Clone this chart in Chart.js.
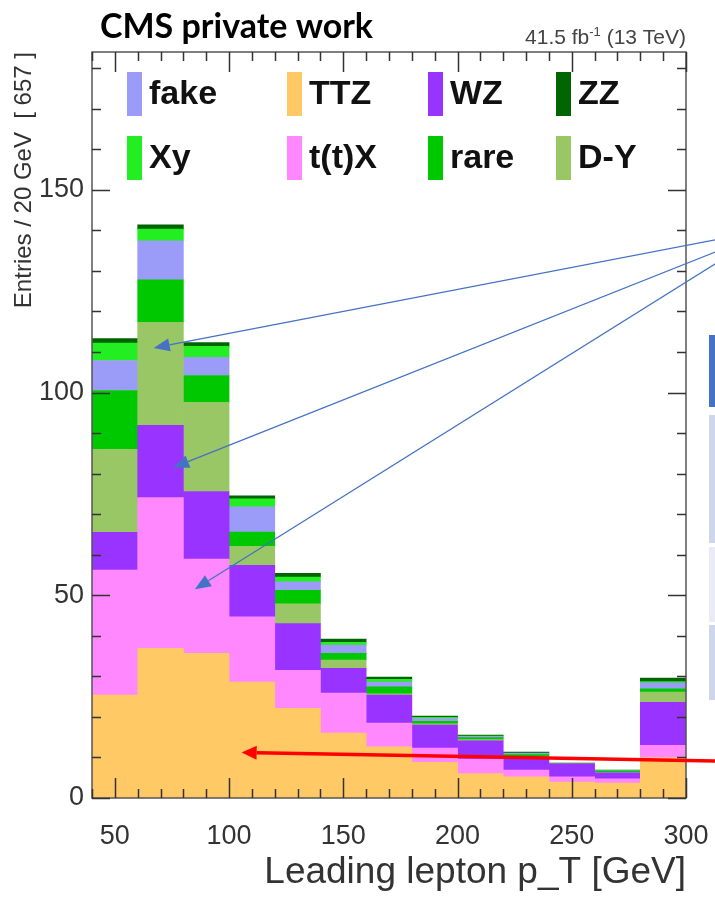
<!DOCTYPE html>
<html>
<head>
<meta charset="utf-8">
<script src="https://cdn.jsdelivr.net/npm/chart.js@4.4.0/dist/chart.umd.min.js"></script>
<style>
  html, body { margin: 0; padding: 0; background: #fff; }
  #wrap { position: relative; width: 715px; height: 905px; }
</style>
</head>
<body>
<div id="wrap"><canvas id="ptChart" width="715" height="905"></canvas></div>
<script>
// bin centres of the 20 GeV bins, 40..300
const binCenters = [50, 70, 90, 110, 130, 150, 170, 190, 210, 230, 250, 270, 290];

// stacked contributions, bottom to top
const ttz  = [25.4, 36.9, 35.7, 28.6, 22.1, 16.0, 12.6, 8.8, 6.0, 5.2, 3.9, 3.7, 10.0];
const ttx  = [30.8, 37.2, 23.2, 16.1, 9.4, 9.9, 5.9, 3.5, 3.6, 1.7, 1.3, 1.0, 3.0];
const wz   = [9.3, 17.8, 16.7, 12.7, 11.5, 6.1, 6.9, 5.7, 4.5, 3.2, 3.2, 1.5, 10.6];
const dy   = [20.5, 25.4, 22.0, 4.7, 4.9, 2.0, 0.3, 0.3, 0.3, 0.2, 0.0, 0.1, 2.5];
const rare = [14.5, 10.5, 6.6, 3.5, 3.3, 1.7, 1.7, 0.6, 0.5, 0.4, 0.1, 0.4, 0.8];
const fake = [7.4, 9.6, 4.5, 6.2, 2.1, 2.0, 1.2, 0.7, 0.3, 0.3, 0.0, 0.1, 1.5];
const xy   = [4.3, 2.9, 2.7, 2.0, 1.2, 0.7, 0.7, 0.3, 0.1, 0.1, 0.0, 0.0, 0.3];
const zz   = [1.1, 1.1, 0.9, 0.7, 0.9, 0.8, 0.5, 0.3, 0.2, 0.2, 0.1, 0.1, 0.9];

const xTicks = [50, 100, 150, 200, 250, 300];
const yTicks = [0, 50, 100, 150];
const legendOrder = ["fake", "TTZ", "WZ", "ZZ", "Xy", "t(t)X", "rare", "D-Y"];

const colors = {
  "TTZ": "#ffc966",
  "t(t)X": "#ff88ff",
  "WZ": "#9933ff",
  "D-Y": "#99c766",
  "rare": "#00c800",
  "fake": "#9a9cf8",
  "Xy": "#22ee22",
  "ZZ": "#006400"
};

// arrows drawn over the plot (tips in data units)
const blueArrows = [
  { from: { x: 313, y: 137.7 }, to: { x: 67, y: 111 } },
  { from: { x: 313, y: 134.7 }, to: { x: 75.5, y: 81.5 } },
  { from: { x: 313, y: 131.8 }, to: { x: 85, y: 51.5 } }
];
const redArrow = { from: { x: 313, y: 9.1 }, to: { x: 105.5, y: 11.2 } };

const series = [
  ["TTZ", ttz], ["t(t)X", ttx], ["WZ", wz], ["D-Y", dy],
  ["rare", rare], ["fake", fake], ["Xy", xy], ["ZZ", zz]
];

const datasets = series.map(([name, vals]) => ({
  label: name,
  data: binCenters.map((c, i) => ({ x: c, y: vals[i] })),
  backgroundColor: colors[name],
  borderWidth: 0,
  barPercentage: 1.0,
  categoryPercentage: 1.0
}));

const framePlugin = {
  id: "frame",
  afterDatasetsDraw(chart) {
    const { ctx, chartArea: a, scales: { x, y } } = chart;
    ctx.save();
    ctx.strokeStyle = "#555";
    ctx.lineWidth = 1.5;
    ctx.strokeRect(a.left, a.top, a.right - a.left, a.bottom - a.top);
    ctx.strokeStyle = "#333";
    ctx.lineWidth = 1.5;
    ctx.beginPath();
    for (let v = 40; v <= 300; v += 10) {
      const len = v % 50 === 0 ? 20 : 9;
      const px = Math.round(x.getPixelForValue(v)) + 0.5;
      ctx.moveTo(px, a.bottom); ctx.lineTo(px, a.bottom - len);
      ctx.moveTo(px, a.top); ctx.lineTo(px, a.top + len);
    }
    for (let v = 0; v <= 180; v += 10) {
      const len = v % 50 === 0 ? 18 : 9;
      const py = Math.round(y.getPixelForValue(v)) + 0.5;
      ctx.moveTo(a.left, py); ctx.lineTo(a.left + len, py);
      ctx.moveTo(a.right, py); ctx.lineTo(a.right - len, py);
    }
    ctx.stroke();
    ctx.restore();
  }
};

const legendPlugin = {
  id: "innerLegend",
  afterDatasetsDraw(chart) {
    const { ctx, chartArea: a } = chart;
    const colX = [35, 195, 336, 464];
    const rowY = [42, 106];
    ctx.save();
    ctx.font = 'bold 34px "Liberation Sans"';
    ctx.textBaseline = "middle";
    legendOrder.forEach((name, i) => {
      const sx = a.left + colX[i % 4];
      const cy = a.top + rowY[Math.floor(i / 4)];
      ctx.fillStyle = colors[name];
      ctx.fillRect(sx, cy - 22, 15, 44);
      ctx.fillStyle = "#111";
      ctx.fillText(name, sx + 22, cy + 1);
    });
    ctx.restore();
  }
};

function drawArrow(ctx, x0, y0, x1, y1, color, width, headLen, headHalf) {
  const ang = Math.atan2(y1 - y0, x1 - x0);
  const bx = x1 - headLen * Math.cos(ang), by = y1 - headLen * Math.sin(ang);
  ctx.strokeStyle = color;
  ctx.fillStyle = color;
  ctx.lineWidth = width;
  ctx.beginPath();
  ctx.moveTo(x0, y0);
  ctx.lineTo(bx, by);
  ctx.stroke();
  ctx.beginPath();
  ctx.moveTo(x1, y1);
  ctx.lineTo(bx + headHalf * Math.sin(ang), by - headHalf * Math.cos(ang));
  ctx.lineTo(bx - headHalf * Math.sin(ang), by + headHalf * Math.cos(ang));
  ctx.closePath();
  ctx.fill();
}

const overlayPlugin = {
  id: "overlay",
  afterDraw(chart) {
    const { ctx, chartArea: a, scales: { x, y } } = chart;
    ctx.save();
    // header texts
    ctx.fillStyle = "#000";
    ctx.font = "bold 34px Lato";
    ctx.textBaseline = "alphabetic";
    ctx.textAlign = "left";
    ctx.fillText("CMS private work", 100, 38);

    const base = '21px "Liberation Sans"', sup = '13px "Liberation Sans"';
    const parts = [["41.5 fb", base, 0], ["-1", sup, -8], [" (13 TeV)", base, 0]];
    let total = 0;
    parts.forEach(p => { ctx.font = p[1]; total += ctx.measureText(p[0]).width; });
    let cx = a.right - total;
    ctx.fillStyle = "#444";
    parts.forEach(p => {
      ctx.font = p[1];
      ctx.fillText(p[0], cx, 44 + p[2]);
      cx += ctx.measureText(p[0]).width;
    });

    // table edge peeking in on the right
    ctx.fillStyle = "#4472c4";
    ctx.fillRect(709, 335, 6, 72);
    ctx.fillStyle = "#cfd5ea";
    ctx.fillRect(709, 415, 6, 128);
    ctx.fillStyle = "#e9ebf5";
    ctx.fillRect(709, 547, 6, 75);
    ctx.fillStyle = "#cfd5ea";
    ctx.fillRect(709, 625, 6, 75);

    // annotation arrows
    blueArrows.forEach(ar => {
      drawArrow(ctx,
        x.getPixelForValue(ar.from.x), y.getPixelForValue(ar.from.y),
        x.getPixelForValue(ar.to.x), y.getPixelForValue(ar.to.y),
        "#4472c4", 1.3, 16, 6.5);
    });
    drawArrow(ctx,
      x.getPixelForValue(redArrow.from.x), y.getPixelForValue(redArrow.from.y),
      x.getPixelForValue(redArrow.to.x), y.getPixelForValue(redArrow.to.y),
      "#ff0000", 3.5, 15, 7);
    ctx.restore();
  }
};

const ctx = document.getElementById("ptChart").getContext("2d");
new Chart(ctx, {
  type: "bar",
  data: { datasets: datasets },
  options: {
    responsive: false,
    animation: false,
    layout: { padding: { top: 52, right: 29, left: 0, bottom: 0 } },
    plugins: {
      legend: { display: false },
      tooltip: { enabled: false }
    },
    scales: {
      x: {
        type: "linear",
        stacked: true,
        min: 40,
        max: 300,
        offset: false,
        grid: { display: false, drawTicks: false },
        border: { display: false },
        afterBuildTicks: (scale) => { scale.ticks = xTicks.map(v => ({ value: v })); },
        afterFit: (scale) => {
          scale.height = 107;
          scale.paddingLeft = 0;
          scale.paddingRight = 0;
        },
        ticks: {
          autoSkip: false,
          maxRotation: 0,
          padding: 22,
          color: "#333",
          font: { family: "Liberation Sans", size: 27 }
        },
        title: {
          display: true,
          text: "Leading lepton p_T [GeV]",
          align: "end",
          color: "#333",
          font: { family: "Liberation Sans", size: 37 },
          padding: { top: 0, bottom: 10 }
        }
      },
      y: {
        stacked: true,
        min: 0,
        max: 184,
        grid: { display: false, drawTicks: false },
        border: { display: false },
        afterBuildTicks: (scale) => { scale.ticks = yTicks.map(v => ({ value: v })); },
        afterFit: (scale) => {
          scale.width = 92;
          scale.paddingTop = 0;
          scale.paddingBottom = 0;
        },
        ticks: {
          padding: 8,
          color: "#333",
          font: { family: "Liberation Sans", size: 27 }
        },
        title: {
          display: true,
          text: "Entries / 20 GeV  [ 657 ]",
          align: "end",
          color: "#333",
          font: { family: "Liberation Sans", size: 24 },
          padding: { top: 10, bottom: 0 }
        }
      }
    }
  },
  plugins: [framePlugin, legendPlugin, overlayPlugin]
});
</script>
</body>
</html>
